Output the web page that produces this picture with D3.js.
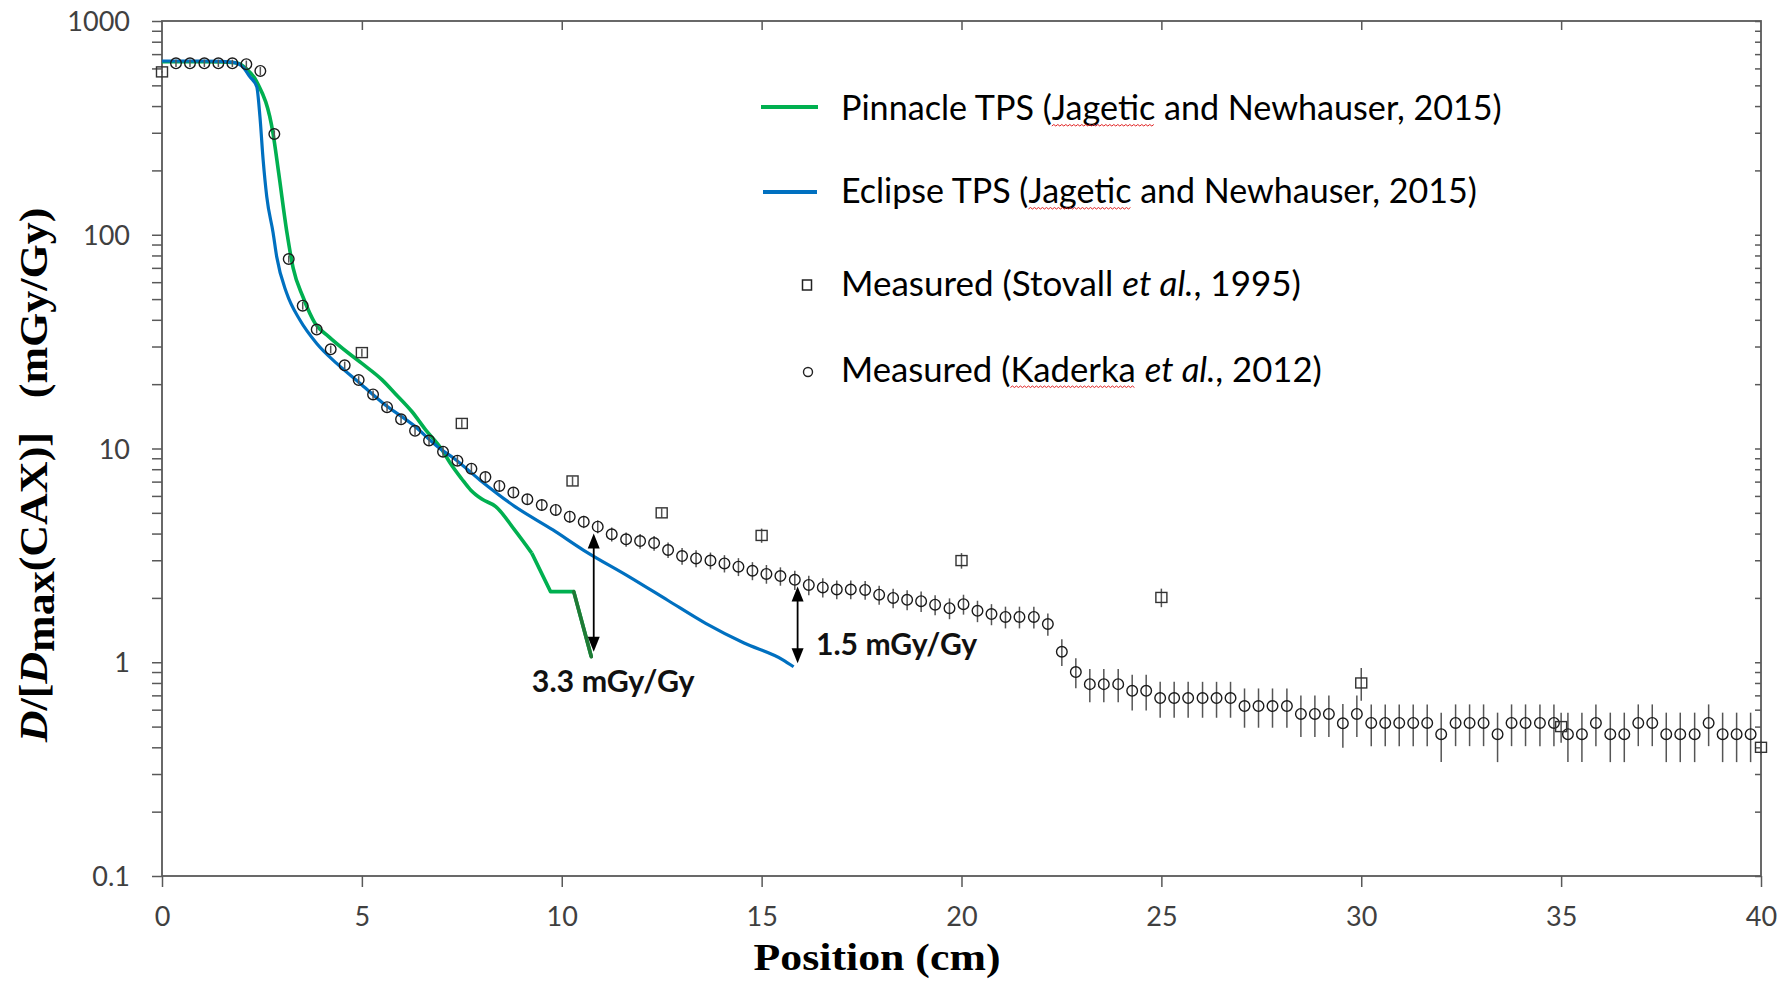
<!DOCTYPE html>
<html><head><meta charset="utf-8">
<script src="https://cdn.jsdelivr.net/npm/d3@7"></script>
<style>html,body{margin:0;padding:0;background:#fff;overflow:hidden}</style>
</head><body>
<svg id="chart" width="1790" height="993"></svg>
<script>
// ---------------- DATA ----------------
const kaderkaX = [0.35,0.70,1.06,1.41,1.76,2.11,2.46,2.81,3.17,3.52,3.87,4.22,4.57,4.92,5.28,5.63,5.98,6.33,6.68,7.03,
7.39,7.74,8.09,8.44,8.79,9.14,9.50,9.85,10.20,10.55,10.90,11.25,11.61,11.96,12.31,12.66,13.01,13.36,13.72,14.07,
14.42,14.77,15.12,15.47,15.83,16.18,16.53,16.88,17.23,17.59,17.94,18.29,18.64,18.99,19.34,19.70,20.05,20.40,20.75,21.10,
21.45,21.81,22.16,22.51,22.86,23.21,23.56,23.92,24.27,24.62,24.97,25.32,25.67,26.03,26.38,26.73,27.08,27.43,27.78,28.14,
28.49,28.84,29.19,29.54,29.89,30.25,30.60,30.95,31.30,31.65,32.00,32.36,32.71,33.06,33.41,33.76,34.11,34.47,34.82,35.17,
35.52,35.87,36.23,36.58,36.93,37.28,37.63,37.98,38.34,38.69,39.04,39.39,39.74];
const kaderkaY = [634,634,634,634,634,628,584,296,77,46.6,36,29.1,24.5,20.9,17.9,15.6,13.7,12.1,10.9,9.66,
8.77,8.05,7.35,6.68,6.22,5.79,5.44,5.16,4.80,4.54,4.31,3.97,3.76,3.69,3.61,3.35,3.14,3.06,2.99,2.90,
2.80,2.68,2.59,2.53,2.43,2.30,2.24,2.19,2.19,2.18,2.07,2.00,1.96,1.93,1.86,1.79,1.87,1.74,1.68,1.63,
1.63,1.63,1.51,1.12,0.90,0.79,0.79,0.79,0.735,0.735,0.68,0.68,0.68,0.68,0.68,0.68,0.624,0.624,0.624,0.624,
0.573,0.573,0.573,0.518,0.573,0.52,0.52,0.52,0.52,0.52,0.461,0.52,0.52,0.52,0.461,0.52,0.52,0.52,0.52,0.461,
0.461,0.52,0.461,0.461,0.52,0.52,0.461,0.461,0.461,0.52,0.461,0.461,0.461];
const kaderkaErr = [25,25,25,25,25,25,25,12,3,2,1.5,1.2,1.0,0.9,0.8,0.7,0.65,0.6,0.55,0.5,
0.45,0.42,0.4,0.37,0.35,0.34,0.33,0.32,0.31,0.3,0.3,0.3,0.29,0.29,0.29,0.28,0.28,0.28,0.27,0.27,
0.27,0.26,0.26,0.25,0.25,0.24,0.23,0.22,0.22,0.22,0.21,0.21,0.21,0.21,0.2,0.2,0.2,0.2,0.19,0.19,
0.19,0.19,0.18,0.16,0.145,0.14,0.14,0.14,0.14,0.14,0.13,0.13,0.13,0.13,0.13,0.13,0.13,0.13,0.13,0.13,
0.126,0.126,0.126,0.12,0.126,0.115,0.115,0.115,0.115,0.115,0.12,0.115,0.115,0.115,0.12,0.115,0.115,0.115,0.115,0.12,
0.12,0.115,0.12,0.12,0.115,0.115,0.12,0.12,0.12,0.115,0.12,0.12,0.12];

const stovallX = [0,5,7.5,10.27,12.5,15,20,25,30,35,40];
const stovallY = [578,28.1,13.1,7.05,5.0,3.92,2.99,2.01,0.80,0.50,0.40];
const stovallErr = [5,1.2,0.6,0.35,0.25,0.3,0.25,0.2,0.14,0.08,0.03];

const pinnacleX = [0,0.5,1.0,1.5,1.9,2.1,2.37,2.78,2.92,3.13,3.28,3.53,3.83,4.17,4.67,5.0,5.5,5.83,6.25,6.6,7.0,7.2,7.5,7.72,8.0,8.35,8.82,9.25,9.72,10.3,10.74];
const pinnacleY = [645,645,645,643,635,600,520,296,194,101,70,51,38.5,33.4,27.9,25.0,21.0,18.1,14.9,12.2,9.9,8.6,7.2,6.4,5.8,5.35,4.16,3.24,2.14,2.14,1.06];

const eclipseX = [0,0.5,1.0,1.5,1.8,2.0,2.2,2.37,2.45,2.53,2.62,2.78,2.87,3.12,3.45,3.87,4.37,4.95,5.53,6.28,6.95,7.3,7.95,8.83,9.78,10.54,11.69,12.65,13.6,14.56,15.52,15.8];
const eclipseY = [650,650,650,648,640,615,548,493,357,224,151,102,78.8,53.2,39.9,31,25,20.2,16.3,12.9,10.0,9.0,7.13,5.35,4.16,3.35,2.51,1.95,1.52,1.23,1.03,0.953];

const xTicks = [0,5,10,15,20,25,30,35,40];
const xTickLabels = ["0","5","10","15","20","25","30","35","40"];
const yTicks = [0.1,1,10,100,1000];
const yTickLabels = ["0.1","1","10","100","1000"];

const arrowX = [10.8, 15.9];
const arrowTop = [4.0, 2.26];
const arrowBottom = [1.12, 0.99];
const arrowLabels = ["3.3 mGy/Gy", "1.5 mGy/Gy"];
const arrowLabelX = [9.25, 16.36];
const arrowLabelY = [0.726, 1.076];

const legendNames = [
  ["Pinnacle TPS (", "Jagetic", " and Newhauser, 2015)"],
  ["Eclipse TPS (", "Jagetic", " and Newhauser, 2015)"],
  ["Measured (Stovall ", "et al.", ", 1995)"],
  ["Measured (", "Kaderka", " ", "et al.", ", 2012)"]
];

// ---------------- CHART ----------------
const svg = d3.select("#chart");
const L = 162, R = 1761, T = 21, B = 876;
const x = d3.scaleLinear().domain([0,40]).range([L,R]);
const y = d3.scaleLog().domain([0.1,1000]).range([B,T]);

const axisColor = "#595959";
const labelColor = "#404040";
const sansFont = "Lato, 'Open Sans', sans-serif";
const serifFont = "'Liberation Serif', 'DejaVu Serif', serif";

function fit(textSel, width) {
  const w = textSel.node().getBBox().width;
  const k = width / w;
  textSel.attr("transform", `scale(${k},1)`);
  return k;
}

const minorTicks = [];
[0.1,1,10,100].forEach(d => { for (let m = 2; m <= 9; m++) minorTicks.push(+(d*m).toPrecision(3)); });

// axes
const gAx = svg.append("g");
function styleAxis(g) {
  g.select(".domain").remove();
  g.selectAll(".tick line").attr("stroke", axisColor).attr("stroke-width", 1.5);
  g.selectAll(".tick text").attr("fill", labelColor).attr("font-family", sansFont).attr("font-size", 27);
}
gAx.append("g").attr("transform", `translate(${L},0)`)
  .call(d3.axisLeft(y).tickValues(yTicks).tickSize(10).tickPadding(22)
    .tickFormat((d,i) => yTickLabels[i]))
  .call(styleAxis)
  .call(g => g.selectAll(".tick text").attr("dy", "0.36em"));
gAx.append("g").attr("transform", `translate(${L},0)`)
  .call(d3.axisLeft(y).tickValues(minorTicks).tickSize(10).tickFormat(""))
  .call(styleAxis);
gAx.append("g").attr("transform", `translate(${R},0)`)
  .call(d3.axisRight(y).tickValues(yTicks.concat(minorTicks)).tickSize(-6).tickFormat(""))
  .call(styleAxis);
gAx.append("g").attr("transform", `translate(0,${B})`)
  .call(d3.axisBottom(x).tickValues(xTicks).tickSize(11).tickPadding(20)
    .tickFormat((d,i) => xTickLabels[i]))
  .call(styleAxis)
  .call(g => g.selectAll(".tick text").attr("dy", "0.7em"));
gAx.append("g").attr("transform", `translate(0,${T})`)
  .call(d3.axisTop(x).tickValues(xTicks.slice(1,-1)).tickSize(-9).tickFormat(""))
  .call(styleAxis);
gAx.append("rect").attr("x", L).attr("y", T).attr("width", R-L).attr("height", B-T)
  .attr("fill", "none").attr("stroke", axisColor).attr("stroke-width", 1.8);

// lines
svg.append("clipPath").attr("id", "plotclip").append("rect")
  .attr("x", L).attr("y", T).attr("width", R-L).attr("height", B-T);
const smooth = d3.line().x(d => x(d[0])).y(d => y(d[1])).curve(d3.curveMonotoneX);
const straight = d3.line().x(d => x(d[0])).y(d => y(d[1]));
const pinData = pinnacleX.map((v,i) => [v, pinnacleY[i]]);
const eclData = eclipseX.map((v,i) => [v, eclipseY[i]]);
const gLines = svg.append("g").attr("clip-path", "url(#plotclip)")
  .attr("fill","none").attr("stroke-linejoin","round");
const splitAt = pinnacleX.indexOf(9.25);
gLines.append("path").datum(pinData.slice(0, splitAt+1)).attr("d", smooth)
  .attr("stroke","#00b050").attr("stroke-width",3.6);
gLines.append("path").datum(pinData.slice(splitAt)).attr("d", straight)
  .attr("stroke","#00b050").attr("stroke-width",3.6);
gLines.append("path").datum(pinData.slice(-2)).attr("d", straight)
  .attr("stroke","#1f7a35").attr("stroke-width",3.6).attr("stroke-linecap","round");
gLines.append("path").datum(eclData).attr("d", smooth)
  .attr("stroke","#0070c0").attr("stroke-width",3.2);

// error bars
const gErr = svg.append("g").attr("stroke", "#555").attr("stroke-width", 1.5);
kaderkaX.forEach((xv,i) => {
  const v = kaderkaY[i], e = kaderkaErr[i];
  gErr.append("line").attr("x1", x(xv)).attr("x2", x(xv))
    .attr("y1", y(Math.max(v-e, 0.105))).attr("y2", y(v+e));
});
stovallX.forEach((xv,i) => {
  const v = stovallY[i], e = stovallErr[i];
  gErr.append("line").attr("x1", x(xv)).attr("x2", x(xv))
    .attr("y1", y(Math.max(v-e, 0.105))).attr("y2", y(v+e));
});

// markers
svg.append("g").selectAll("circle").data(kaderkaX).join("circle")
  .attr("cx", d => x(d)).attr("cy", (d,i) => y(kaderkaY[i])).attr("r", 5.3)
  .attr("fill","none").attr("stroke","#1a1a1a").attr("stroke-width",1.4);
svg.append("g").selectAll("rect").data(stovallX).join("rect")
  .attr("x", d => x(d)-5.5).attr("y", (d,i) => y(stovallY[i])-5).attr("width", 11).attr("height", 10)
  .attr("fill","none").attr("stroke","#333").attr("stroke-width",1.4);

// arrows + labels
const gArr = svg.append("g");
arrowX.forEach((xv,i) => {
  const px = x(xv), yt = y(arrowTop[i]), yb = y(arrowBottom[i]);
  const hl = 15, hw = 6;
  gArr.append("line").attr("x1", px).attr("x2", px).attr("y1", yt+hl-2).attr("y2", yb-hl+2)
    .attr("stroke","#000").attr("stroke-width",1.8);
  gArr.append("path").attr("d", `M${px},${yt}L${px-hw},${yt+hl}L${px+hw},${yt+hl}Z`).attr("fill","#000");
  gArr.append("path").attr("d", `M${px},${yb}L${px-hw},${yb-hl}L${px+hw},${yb-hl}Z`).attr("fill","#000");
  const gt = svg.append("g").attr("transform", `translate(${x(arrowLabelX[i])},${y(arrowLabelY[i])})`);
  const t = gt.append("text").attr("font-family", sansFont).attr("font-weight","bold")
    .attr("font-size", 30).attr("fill","#111").text(arrowLabels[i]);
  fit(t, i === 0 ? 163 : 161.5);
});

// legend
const legY = [107, 192, 285, 372];
const legBase = [120, 203, 296, 381.5];
const legW = [661, 636, 460, 481];
const gLeg = svg.append("g");
gLeg.append("line").attr("x1",761).attr("x2",818).attr("y1",legY[0]).attr("y2",legY[0])
  .attr("stroke","#00b050").attr("stroke-width",4.2);
gLeg.append("line").attr("x1",763).attr("x2",817).attr("y1",legY[1]).attr("y2",legY[1])
  .attr("stroke","#0070c0").attr("stroke-width",4.2);
gLeg.append("rect").attr("x",807-4.5).attr("y",legY[2]-5).attr("width",9).attr("height",10)
  .attr("fill","none").attr("stroke","#222").attr("stroke-width",1.5);
gLeg.append("circle").attr("cx",808).attr("cy",legY[3]).attr("r",4.5)
  .attr("fill","none").attr("stroke","#222").attr("stroke-width",1.4);

legendNames.forEach((parts,i) => {
  const g = gLeg.append("g").attr("transform", `translate(841,${legBase[i]})`);
  const t = g.append("text").attr("font-family", sansFont).attr("font-size", 34.5).attr("fill","#000");
  parts.forEach(p => {
    t.append("tspan").attr("font-style", p === "et al." ? "italic" : "normal").text(p);
  });
  const k = fit(t, legW[i]);
  const full = parts.join("");
  ["Jagetic","Kaderka"].forEach(w => {
    const idx = full.indexOf(w);
    if (idx < 0) return;
    const node = t.node();
    const x0 = node.getStartPositionOfChar(idx).x * k;
    const x1 = node.getEndPositionOfChar(idx + w.length - 1).x * k;
    let d = `M${x0},6`;
    let up = true;
    for (let xx = x0 + 2; xx <= x1; xx += 2) { d += `L${xx},${up ? 4.5 : 6}`; up = !up; }
    g.append("path").attr("d", d).attr("fill","none").attr("stroke","#e02020").attr("stroke-width",1);
  });
});

// axis titles
const gX = svg.append("g").attr("transform", "translate(877,970)");
const xt = gX.append("text").attr("text-anchor","middle").attr("font-family", serifFont)
  .attr("font-weight","bold").attr("font-size", 38).attr("fill","#000").text("Position (cm)");
fit(xt, 247);

const gY = svg.append("g").attr("transform", "translate(47,475) rotate(-90)");
const yt = gY.append("text").attr("text-anchor","middle").attr("font-family", serifFont)
  .attr("font-weight","bold").attr("font-size", 39).attr("fill","#000");
yt.append("tspan").attr("font-style","italic").text("D");
yt.append("tspan").text("/[");
yt.append("tspan").attr("font-style","italic").text("D");
yt.append("tspan").attr("dy", 7).text("max");
yt.append("tspan").attr("dy", -7).text("(CAX)]");
yt.append("tspan").attr("dx", 30).text("(mGy/Gy)");
fit(yt, 536);
</script>
</body></html>
